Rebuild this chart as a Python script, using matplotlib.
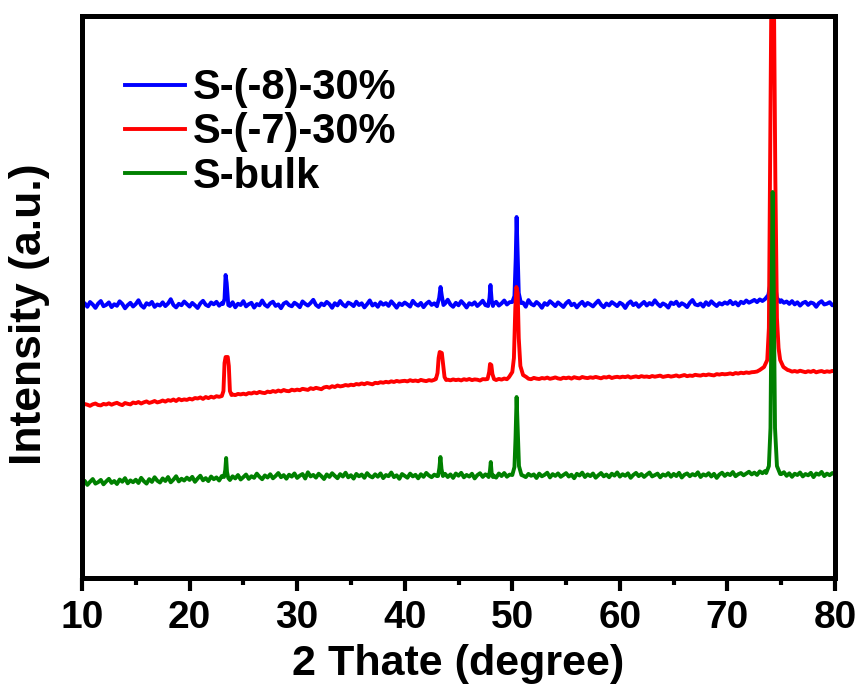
import numpy as np
import matplotlib
matplotlib.use("Agg")
import matplotlib.pyplot as plt
from matplotlib.ticker import MultipleLocator

plt.rcParams['font.family'] = ['Liberation Sans', 'DejaVu Sans']
plt.rcParams['font.weight'] = 'bold'

labels = ["S-(-8)-30%", "S-(-7)-30%", "S-bulk"]
colors = ["#0000ff", "#ff0000", "#008000"]

# baseline samples every 0.25 degree from 10 to 80
base_x = [10 + 0.25 * i for i in range(281)]

blue_base = [
    2725, 2748, 2712, 2760, 2735, 2701, 2744, 2770, 2718, 2731,
    2756, 2709, 2738, 2722, 2767, 2741, 2697, 2729, 2752, 2715,
    2740, 2778, 2726, 2703, 2748, 2733, 2761, 2711, 2736, 2724,
    2757, 2719, 2745, 2788, 2730, 2706, 2742, 2728, 2765, 2739,
    2714, 2751, 2727, 2700, 2746, 2772, 2733, 2718, 2755, 2737,
    2762, 2723, 2749, 2734, 2741, 2720, 2758, 2707, 2743, 2730,
    2769, 2716, 2738, 2752, 2704, 2740, 2727, 2775, 2732, 2713,
    2747, 2763, 2721, 2736, 2698, 2744, 2759, 2729, 2717, 2753,
    2735, 2708, 2766, 2742, 2724, 2750, 2782, 2731, 2710, 2745,
    2728, 2761, 2739, 2702, 2748, 2726, 2770, 2734, 2715, 2754,
    2741, 2719, 2763, 2730, 2747, 2706, 2738, 2776, 2725, 2744,
    2712, 2758, 2733, 2749, 2721, 2767, 2737, 2703, 2746, 2729,
    2755, 2736, 2714, 2772, 2740, 2723, 2751, 2708, 2743, 2764,
    2731, 2747, 2718, 2739, 2760, 2745, 2783, 2735, 2712, 2752,
    2727, 2769, 2740, 2705, 2748, 2733, 2757, 2720, 2744, 2773,
    2729, 2711, 2750, 2738, 2762, 2724, 2746, 2775, 2735, 2758,
    2766, 2742, 2787, 2730, 2754, 2713, 2779, 2741, 2726, 2760,
    2737, 2702, 2749, 2731, 2768, 2745, 2719, 2756, 2734, 2710,
    2748, 2771, 2728, 2743, 2706, 2739, 2762, 2722, 2751, 2735,
    2716, 2747, 2774, 2733, 2708, 2745, 2726, 2759, 2740, 2719,
    2753, 2737, 2700, 2744, 2766, 2729, 2748, 2712, 2738, 2761,
    2725, 2750, 2734, 2777, 2742, 2717, 2746, 2731, 2704, 2755,
    2739, 2763, 2721, 2748, 2733, 2709, 2752, 2780, 2736, 2727,
    2745, 2714, 2758, 2730, 2767, 2741, 2720, 2749, 2735, 2756,
    2742, 2771, 2738, 2757, 2726, 2762, 2748, 2775, 2753, 2766,
    2781, 2759, 2786, 2770, 2795, 2810, 2790, 2780, 2775, 2770,
    2778, 2752, 2765, 2741, 2769, 2736, 2757, 2724, 2750, 2762,
    2731, 2755, 2746, 2712, 2749, 2768, 2735, 2743, 2758, 2727,
    2747]

red_base = [
    1728, 1740, 1733, 1722, 1737, 1745, 1730, 1726, 1741, 1735,
    1747, 1733, 1744, 1752, 1738, 1729, 1750, 1742, 1736, 1755,
    1748, 1760, 1745, 1757, 1766, 1751, 1759, 1770, 1756, 1763,
    1775, 1764, 1779, 1772, 1785, 1770, 1790, 1778, 1786, 1781,
    1793, 1785, 1800, 1795, 1806, 1791, 1810, 1799, 1813, 1804,
    1818, 1812, 1826, 1820, 1830, 1824, 1835, 1829, 1841, 1836,
    1843, 1836, 1850, 1845, 1856, 1848, 1861, 1853, 1849, 1864,
    1858, 1870, 1862, 1875, 1866, 1880, 1871, 1868, 1883, 1876,
    1884, 1878, 1892, 1887, 1881, 1898, 1890, 1902, 1895, 1888,
    1906, 1912, 1903, 1918, 1910, 1925, 1916, 1921, 1930, 1924,
    1933, 1928, 1940, 1935, 1946, 1938, 1950, 1943, 1937, 1952,
    1948, 1958, 1953, 1962, 1956, 1967, 1960, 1971, 1964, 1969,
    1972, 1966, 1978, 1970, 1975, 1968, 1981, 1974, 1969, 1979,
    1973, 1982, 1976, 1985, 1978, 1971, 1983, 1977, 1986, 1979,
    1984, 1976, 1988, 1981, 1990, 1979, 1986, 1983, 1975, 1989,
    1987, 1982, 1993, 1986, 1980, 1991, 1984, 1995, 1988, 1983,
    1992, 1986, 1998, 1990, 1985, 1999, 1993, 1988, 2001, 1994,
    1990, 2000, 1995, 2004, 1992, 1998, 2006, 1996, 1991, 2003,
    1998, 2005, 1994, 2008, 2001, 1996, 2010, 2003, 1999, 2007,
    2002, 2011, 2004, 1997, 2009, 2005, 2014, 2000, 2008, 2012,
    2006, 2013, 2009, 2017, 2004, 2011, 2016, 2008, 2019, 2012,
    2015, 2009, 2020, 2013, 2018, 2024, 2011, 2017, 2022, 2014,
    2019, 2026, 2015, 2023, 2030, 2018, 2025, 2021, 2032, 2027,
    2024, 2033, 2028, 2036, 2030, 2026, 2039, 2034, 2041, 2037,
    2040, 2046, 2038, 2050, 2044, 2053, 2048, 2056, 2051, 2058,
    2060, 2065, 2071, 2080, 2095, 2110, 2100, 2090, 2085, 2080,
    2078, 2072, 2069, 2076, 2064, 2070, 2062, 2073, 2066, 2058,
    2068, 2061, 2072, 2057, 2065, 2070, 2059, 2067, 2062, 2071,
    2063]

green_base = [
    948, 972, 931, 962, 990, 944, 958, 981, 937, 966,
    992, 951, 970, 940, 985, 963, 999, 947, 976, 958,
    983, 950, 1002, 968, 944, 989, 961, 1008, 973, 955,
    996, 970, 1010, 957, 984, 1018, 966, 993, 975, 1004,
    981, 1012, 962, 995, 1023, 977, 999, 969, 1015, 988,
    1006, 975, 1020, 992, 1003, 980, 1017, 996, 1030, 985,
    1009, 1035, 991, 1018, 1002, 1044, 1012, 988, 1026, 1005,
    1038, 997, 1021, 1050, 1008, 1029, 993, 1033, 1014, 1046,
    1001, 1024, 1040, 995, 1057, 1016, 1031, 1004, 1043, 1019,
    990, 1036, 1011, 1048, 1022, 998, 1039, 1015, 1053, 1007,
    1028, 994, 1041, 1017, 1035, 1002, 1049, 1020, 1006, 1037,
    1013, 1046, 999, 1030, 1018, 1055, 1009, 1027, 992, 1040,
    1021, 1003, 1044, 1016, 1032, 997, 1038, 1012, 1051, 1025,
    1008, 1034, 1019, 1047, 1027, 1042, 1010, 1036, 1001, 1045,
    1023, 1052, 1007, 1031, 1014, 1043, 996, 1029, 1048, 1011,
    1037, 1018, 1040, 1026, 1004, 1045, 1020, 1050, 1013, 1034,
    1028, 1047, 1016, 1058, 1024, 1009, 1041, 1022, 1036, 1000,
    1044, 1017, 1032, 1053, 1006, 1039, 1021, 1046, 1012, 1030,
    1049, 1015, 1033, 998, 1042, 1025, 1054, 1010, 1037, 1019,
    1045, 1003, 1028, 1050, 1017, 1035, 1008, 1043, 1024, 1056,
    1014, 1038, 1022, 1047, 1002, 1031, 1051, 1019, 1040, 1011,
    1034, 1055, 1016, 1029, 1044, 1007, 1036, 1023, 1049, 1013,
    1041, 1020, 1052, 1005, 1033, 1046, 1018, 1039, 1026, 1057,
    1010, 1037, 1024, 1048, 1015, 1042, 1001, 1035, 1053, 1021,
    1044, 1029, 1060, 1018, 1038, 1050, 1027, 1045, 1063, 1036,
    1054, 1031, 1066, 1048, 1070, 1060, 1080, 1070, 1060, 1065,
    1039, 1058, 1022, 1047, 1012, 1043, 1030, 1055, 1016, 1040,
    1027, 1052, 1009, 1046, 1033, 1061, 1019, 1044, 1028, 1050,
    1032]

# peak profiles (list of peaks, each with x and y samples)
blue_peaks_x = [
    [23.1, 23.25, 23.35, 23.45, 23.6],
    [43.05, 43.2, 43.33, 43.45, 43.6],
    [47.75, 47.88, 47.97, 48.08, 48.2],
    [50.0, 50.2, 50.32, 50.4, 50.48, 50.6, 50.8],
    [73.5, 73.8, 74.0, 74.15, 74.25, 74.4, 74.6, 74.9]]
blue_peaks_y = [
    [2740, 2790, 3030, 2950, 2730],
    [2740, 2800, 2910, 2820, 2730],
    [2720, 2800, 2930, 2780, 2720],
    [2760, 2820, 3200, 3610, 3300, 2850, 2750],
    [2790, 2830, 2950, 3430, 3300, 2950, 2800, 2760]]

red_peaks_x = [
    [23.0, 23.15, 23.25, 23.35, 23.55, 23.65, 23.75, 23.9],
    [42.9, 43.05, 43.15, 43.25, 43.45, 43.55, 43.7, 43.85],
    [47.7, 47.85, 47.93, 48.05, 48.15, 48.3],
    [49.7, 50.0, 50.15, 50.28, 50.38, 50.5, 50.6, 50.75, 51.0, 51.3],
    [73.0, 73.4, 73.7, 73.85, 73.95, 74.2, 74.45, 74.6, 74.75, 74.9, 75.2, 75.6]]
red_peaks_y = [
    [1820, 1870, 2150, 2210, 2210, 2120, 1870, 1830],
    [1990, 2050, 2200, 2260, 2250, 2150, 2010, 1980],
    [1990, 2060, 2140, 2130, 2040, 1990],
    [2010, 2060, 2200, 2700, 2910, 2850, 2400, 2120, 2030, 2010],
    [2080, 2110, 2180, 2500, 4000, 7500, 4000, 2600, 2300, 2180, 2110, 2080]]

green_peaks_x = [
    [23.2, 23.32, 23.4, 23.48, 23.6],
    [43.1, 43.22, 43.32, 43.42, 43.55],
    [47.8, 47.92, 48.0, 48.08, 48.2],
    [50.0, 50.2, 50.3, 50.4, 50.5, 50.62, 50.85],
    [73.6, 73.85, 74.0, 74.1, 74.2, 74.3, 74.42, 74.6, 74.9]]
green_peaks_y = [
    [1010, 1080, 1200, 1060, 1000],
    [1020, 1100, 1210, 1090, 1020],
    [1010, 1070, 1160, 1050, 1010],
    [1030, 1110, 1400, 1810, 1500, 1120, 1030],
    [1050, 1120, 1500, 2800, 3860, 2900, 1500, 1120, 1040]]


def merge(bx, by, px, py):
    xs, ys = [], []
    for x, y in zip(bx, by):
        inside = any(min(p) <= x <= max(p) for p in px)
        if not inside:
            xs.append(x)
            ys.append(y)
    for p, q in zip(px, py):
        xs.extend(p)
        ys.extend(q)
    order = np.argsort(xs)
    return np.array(xs)[order], np.array(ys)[order]


series = [
    merge(base_x, blue_base, blue_peaks_x, blue_peaks_y),
    merge(base_x, red_base, red_peaks_x, red_peaks_y),
    merge(base_x, green_base, green_peaks_x, green_peaks_y),
]

fig = plt.figure(figsize=(8.63, 6.92), dpi=100)
ax = fig.add_axes([0.0950, 0.1647, 0.8726, 0.8122])

for (x, y), c, lab in zip(series, colors, labels):
    ax.plot(x, y, color=c, lw=2.8, label=lab, solid_joinstyle='round')

ax.set_xlim(10, 80)
ax.set_ylim(0, 5620)
ax.xaxis.set_major_locator(MultipleLocator(10))
ax.xaxis.set_minor_locator(MultipleLocator(5))
ax.set_yticks([])
for s in ax.spines.values():
    s.set_linewidth(3.6)
ax.tick_params(axis='x', which='major', direction='out', length=9.5, width=3,
               labelsize=28, pad=6)
ax.tick_params(axis='x', which='minor', direction='out', length=5, width=3)
for t in ax.get_xticklabels():
    t.set_fontweight('bold')

ax.set_xlabel("2 Thate (degree)", fontsize=31, fontweight='bold', labelpad=6)
ax.set_ylabel("Intensity (a.u.)", fontsize=32, fontweight='bold')
ax.yaxis.set_label_coords(-0.0425, 0.47)

leg = ax.legend(loc='upper left', bbox_to_anchor=(0.057, 0.907), frameon=False,
                fontsize=30, handlelength=1.45, handletextpad=0.17,
                labelspacing=0.1, borderpad=0, borderaxespad=0)
for t in leg.get_texts():
    t.set_fontweight('bold')

fig.savefig("out.png", dpi=100)
